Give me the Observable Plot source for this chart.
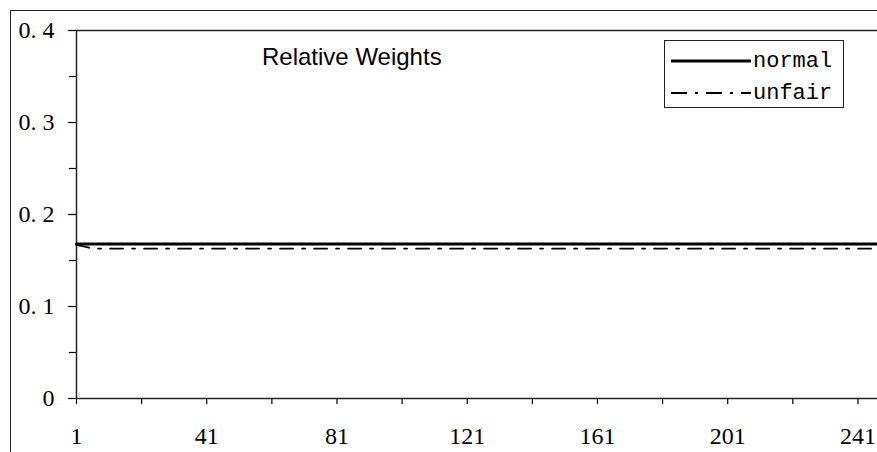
<!DOCTYPE html>
<html>
<head>
<meta charset="utf-8">
<script src="https://cdn.jsdelivr.net/npm/d3@7"></script>
<script src="https://cdn.jsdelivr.net/npm/@observablehq/plot@0.6"></script>
<style>
  html, body { margin: 0; padding: 0; background: #fff; overflow: hidden; }
  #wrap { position: relative; width: 877px; height: 452px; overflow: hidden; }
  #outer { position: absolute; left: 10px; top: 10px; width: 900px; height: 500px;
           border-left: 1.5px solid #222; border-top: 1.5px solid #222; pointer-events: none; }
  #title { position: absolute; left: 262px; top: 43px; font-family: "Liberation Sans", Arial, sans-serif;
           font-size: 24px; color: #000; white-space: nowrap; }
  #legend { position: absolute; left: 664px; top: 40px; width: 180px; height: 68px;
            border: 1.5px solid #222; box-sizing: border-box; background: #fff; }
  .row { position: absolute; left: 6px; height: 30px; display: flex; align-items: center; }
  .row span { font-family: "Liberation Mono", "DejaVu Sans Mono", monospace; font-size: 22px; margin-left: 2px; }
</style>
</head>
<body>
<div id="wrap">
  <div id="chart"></div>
  <div id="outer"></div>
  <div id="title"></div>
  <div id="legend"></div>
</div>
<script>
// ---- data ----
const seriesNames = ["normal", "unfair"];
const xPoints  = [1, 6, 21, 41, 61, 81, 101, 121, 141, 161, 181, 201, 221, 241, 247];
const normalValues = [0.168, 0.168, 0.168, 0.168, 0.168, 0.168, 0.168, 0.168, 0.168, 0.168, 0.168, 0.168, 0.168, 0.168, 0.168];
const unfairValues = [0.167, 0.163, 0.163, 0.163, 0.163, 0.163, 0.163, 0.163, 0.163, 0.163, 0.163, 0.163, 0.163, 0.163, 0.163];
const xTicks = [1, 21, 41, 61, 81, 101, 121, 141, 161, 181, 201, 221, 241];
const xLabels = ["1", "", "41", "", "81", "", "121", "", "161", "", "201", "", "241"];
const yTicks = [0, 0.1, 0.2, 0.3, 0.4];
const yLabels = ["0", "0. 1", "0. 2", "0. 3", "0. 4"];
const yMinorTicks = [0.05, 0.15, 0.25, 0.35];
const titleText = "Relative Weights";

const normalData = xPoints.map((x, i) => ({x, v: normalValues[i]}));
const unfairData = xPoints.map((x, i) => ({x, v: unfairValues[i]}));

const dash = "13,9,3,9";
const serif = "Liberation Serif, Times New Roman, serif";

const chart = Plot.plot({
  width: 877,
  height: 452,
  marginLeft: 76,
  marginRight: 0,
  marginTop: 30,
  marginBottom: 54,
  style: { background: "transparent", color: "#000" },
  x: { domain: [1, 247] },
  y: { domain: [0, 0.4] },
  marks: [
    Plot.axisY(yMinorTicks, { tickSize: 7, tickFormat: () => "", label: null, strokeWidth: 1.2 }),
    Plot.axisY(yTicks, { tickSize: 8, tickPadding: 14, tickFormat: (d, i) => yLabels[i], label: null,
                         fontSize: 24, fontFamily: serif, strokeWidth: 1.2 }),
    Plot.axisX(xTicks, { tickSize: 6, tickPadding: 22, tickFormat: (d, i) => xLabels[i], label: null,
                         fontSize: 24, fontFamily: serif, strokeWidth: 1.2 }),
    Plot.ruleY([0], { stroke: "#222", strokeWidth: 1.5 }),
    Plot.ruleY([0.4], { stroke: "#222", strokeWidth: 1.5 }),
    Plot.ruleX([1], { stroke: "#222", strokeWidth: 1.5 }),
    Plot.line(unfairData, { x: "x", y: "v", stroke: "#000", strokeWidth: 1.8, strokeDasharray: dash }),
    Plot.line(normalData, { x: "x", y: "v", stroke: "#000", strokeWidth: 3 })
  ]
});
document.getElementById("chart").appendChild(chart);

document.getElementById("title").textContent = titleText;

const legend = document.getElementById("legend");
seriesNames.forEach((name, i) => {
  const row = document.createElement("div");
  row.className = "row";
  row.style.top = (5 + i * 32) + "px";
  const svg = d3.create("svg").attr("width", 80).attr("height", 10);
  svg.append("line").attr("x1", 0).attr("x2", 80).attr("y1", 5).attr("y2", 5)
    .attr("stroke", "#000").attr("stroke-width", i === 0 ? 3 : 1.8)
    .attr("stroke-dasharray", i === 0 ? null : "16,8,3,8");
  row.appendChild(svg.node());
  const s = document.createElement("span");
  s.textContent = name;
  row.appendChild(s);
  legend.appendChild(row);
});
</script>
</body>
</html>
